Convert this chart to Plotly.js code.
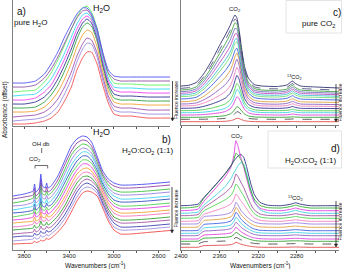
<!DOCTYPE html>
<html><head><meta charset="utf-8">
<script src="https://cdn.plot.ly/plotly-3.0.1.min.js"></script>
<style>html,body{margin:0;padding:0;background:#fff}#chart{width:342px;height:269px}</style>
</head><body><div id="chart"></div>
<script>
// ---------- Panel a: pure H2O (wavenumber, offset absorbance, bottom -> top) ----------
const wnA = [3900,3800,3700,3620,3560,3500,3440,3380,3330,3280,3240,3200,3150,3100,3050,3000,2940,2850,2700,2500];
const specA = [
 [2,2,3,5,8,14,25,39,56,68,74,74,62,41,23,12,10,10,8,8],
 [5,6,7,9,13,20,32,47,64,77,83,82,69,46,27,16,14,14,12,12],
 [9,10,11,14,19,27,39,54,70,82,88,86,73,50,30,20,18,18,16,16],
 [14,14,15,19,25,34,47,63,79,91,96,94,79,55,35,24,22,22,21,21],
 [18,18,19,24,31,41,55,71,87,99,103,100,85,60,39,28,26,26,25,25],
 [22,22,24,29,36,47,61,77,92,103,107,103,88,63,42,32,30,30,29,29],
 [26,26,28,34,41,53,67,83,97,107,110,106,90,65,45,36,34,34,33,33],
 [30,31,32,39,47,59,73,89,102,111,113,108,92,68,48,39,38,38,37,37],
 [34,35,36,44,53,66,81,97,109,118,120,114,98,72,52,43,42,42,41,41],
 [39,39,41,48,57,69,83,97,108,115,116,110,95,72,53,47,45,45,45,45],
 [43,43,45,52,62,74,89,102,112,118,118,112,97,74,56,50,49,49,49,49]
];
// ---------- Panel b: H2O:CO2 (1:1) ----------
const wnB = [3900,3800,3720,3708,3695,3665,3652,3638,3612,3600,3588,3560,3500,3440,3380,3330,3280,3240,3200,3150,3100,3050,3000,2940,2850,2700,2500];
const specB = [
 [6,6.5,7,9,7.5,8.5,10,9,10,12,10.5,12,18,26,38,49,57,59,58,54,42,29,20,16,16,17.5,19.5],
 [9,10,11,13,11,12,15,13,14,16,14,16,22,31,43,53,61,63,62,57,45,32,23,20,20,21,23],
 [13,14,14,17,15,16,19,17,17,20,18,19,26,35,47,58,65,67,65,60,47,35,27,23,23,24,26],
 [16,17,18,21,18,20,24,21,21,24,22,23,30,40,52,62,69,71,69,63,50,38,30,27,27,28,30],
 [20,21,22,25,22,24,29,25,25,28,25,27,34,44,57,67,73,74,72,65,53,41,33,30,30,31,33],
 [23,24,26,29,26,28,34,29,29,32,29,31,38,49,62,71,77,78,76,68,55,44,37,34,34,35,37],
 [27,28,29,33,29,31,38,33,32,36,33,34,42,53,66,76,81,82,79,71,58,47,40,37,37,38,40],
 [30,31,33,38,33,35,43,37,36,40,36,38,46,58,71,80,86,86,83,74,61,50,44,41,41,42,44],
 [33,35,37,42,36,39,48,40,40,43,40,42,50,62,76,84,90,90,87,77,63,53,47,44,44,45,47],
 [37,38,40,46,40,43,52,44,43,47,44,45,54,67,80,89,94,94,90,80,66,56,50,48,48,49,51],
 [40,42,44,50,44,47,57,48,47,51,47,49,58,71,85,93,98,98,94,83,68,59,54,51,51,52,54],
 [44,45,48,54,47,51,62,52,51,55,51,53,62,76,90,98,102,101,97,85,71,62,57,55,55,56,58],
 [47,49,52,58,51,54,67,56,55,59,55,57,66,80,95,102,106,105,101,88,74,65,60,58,58,59,61],
 [51,53,55,62,54,58,71,60,58,63,58,60,70,85,99,107,110,109,104,91,76,68,64,62,62,63,65],
 [54,56,59,66,58,62,76,64,62,67,62,64,74,89,104,111,114,113,108,94,79,71,67,65,65,66,68]
];
// ---------- Panel c: pure CO2 ----------
const wnC = [2400,2392,2384,2376,2368,2360,2354,2349,2346,2344,2342,2340,2337,2334,2330,2324,2316,2300,2290,2286,2284,2282,2276,2260,2236];
const specC = [
 [3.3,3.3,3.3,3.3,3.4,3.5,3.7,4.3,5,5.9,6.7,6.5,5.3,4.3,3.7,3.4,3.3,3.3,3.3,3.4,3.5,3.4,3.3,3.3,3.3],
 [5.7,5.7,5.7,5.8,5.9,6.2,6.7,7.8,9.5,11.4,13.3,12.8,10.3,8,6.6,6,5.8,5.7,5.8,5.9,6.1,5.9,5.7,5.7,5.7],
 [7.7,7.7,7.7,7.9,8.2,8.7,9.4,11,13.2,15.8,18.3,17.5,14,10.9,9,8.1,7.8,7.7,7.8,8,8.2,8,7.7,7.7,7.7],
 [10,10,10.1,10.5,11.2,12.2,13.5,16.2,20,24.2,28.2,26.8,20.8,15.4,12.2,10.7,10.2,10,10.2,10.6,11,10.6,10,10,10],
 [12.3,12.3,12.4,12.9,13.8,15.1,16.7,20.2,25.1,30.4,35.6,34.1,26.2,19.3,15.1,13.2,12.5,12.3,12.5,13.1,13.5,13,12.3,12.3,12.2],
 [14.3,14.4,14.6,15.5,16.9,19,21.1,25.1,30.5,36.2,41.5,39.2,30.3,22.4,17.5,15.3,14.5,14.3,14.6,15.3,15.8,15.2,14.3,14.2,14.2],
 [16.7,16.8,17.2,18.7,21,24,26.9,31.7,37.9,44.2,49.6,46.6,35.9,26.4,20.6,17.8,16.9,16.6,17.1,18,18.6,17.8,16.7,16.6,16.4],
 [19,19.2,19.8,22.1,25.4,29.6,33.4,39,45.7,52.4,57.7,53.8,41.3,30.3,23.6,20.3,19.2,18.9,19.5,20.6,21.3,20.4,19,18.8,18.6],
 [21,21.2,22.1,25.3,29.9,35.6,40.4,46.8,54.1,61,65.8,61,46.6,34,26.3,22.4,21.2,20.8,21.6,23,23.7,22.7,21,20.7,20.4],
 [23.3,23.6,24.8,28.9,34.7,41.8,47.5,54.4,61.8,68.3,72.1,66.5,50.9,37.4,29,24.7,23.5,23.1,23.9,25.6,26.4,25.2,23.3,22.9,22.5],
 [26,26.4,27.8,32.8,39.7,48,54.4,61.5,68.6,74.4,76.8,70.6,54.5,40.6,31.9,27.4,26.2,25.7,26.7,28.5,29.4,28,26,25.5,25],
 [28.3,28.7,30.4,36.1,44,53.5,60.8,68.4,75.8,81.5,83.3,76.4,58.9,44,34.7,29.7,28.4,28,29,31.1,32,30.5,28.3,27.7,27.1],
 [30,30.5,32.3,38.5,47.1,57.4,65.1,72.9,80.1,85.4,86.4,79.1,61.3,46.1,36.5,31.4,30.1,29.7,30.8,33,33.9,32.3,30,29.4,28.7],
 [31.7,32.2,34.3,41.2,50.8,62.2,70.6,78.8,86.1,91,91.2,83.2,64.5,48.6,38.6,33.1,31.8,31.3,32.5,34.9,35.8,34.2,31.7,31,30.2],
 [33.3,33.9,36.2,43.9,54.6,67.1,76.3,84.9,92.1,96.7,96,87.3,67.6,51.1,40.5,34.7,33.4,32.9,34.2,36.8,37.7,36,33.3,32.5,31.7],
 [35,35.6,38.2,46.5,58,71.5,81.3,90.3,97.7,102.1,100.8,91.5,70.9,53.6,42.6,36.5,35,34.6,35.9,38.7,39.7,37.8,35,34.1,33.2],
 [36.7,37.4,40.1,48.8,61,75.2,85.4,94.6,101.9,106,104,94.4,73.3,55.7,44.4,38.2,36.7,36.2,37.7,40.5,41.5,39.6,36.7,35.8,34.8],
 [39,39.7,42.6,51.8,64.6,79.5,90.1,99.4,106.5,110,107.2,97.2,75.9,58.2,46.8,40.4,39,38.5,40,43,44,42,39,38,37]
];
// ---------- Panel d: H2O:CO2 (1:1) ----------
const wnD = [2400,2390,2382,2379,2376,2370,2362,2354,2348,2345,2343,2341,2338,2335,2332,2328,2324,2318,2310,2296,2286,2281,2276,2266,2250,2236];
const specD = [
 [2.7,2.7,2.8,3.7,4.4,4.5,4.7,4.9,5.4,6.4,7.7,7.1,5.9,5.1,4.4,3.7,3.2,2.8,2.7,2.7,2.9,3,2.9,2.7,2.7,2.7],
 [6,6,6.1,7.4,8.3,8.5,8.7,9,9.6,11,12.7,11.9,10.3,9.2,8.3,7.3,6.6,6.2,6,6,6.3,6.4,6.3,6,6,6],
 [8.7,8.7,8.9,10.5,11.8,12,12.3,12.7,13.5,15.4,17.7,16.7,14.5,13,11.8,10.5,9.5,8.9,8.7,8.7,9.1,9.2,9.1,8.7,8.7,8.7],
 [11,11,11.2,13.4,15,15.3,15.7,16.2,17.2,19.8,22.7,21.4,18.5,16.6,15.1,13.3,12.1,11.3,11,11,11.5,11.7,11.5,11,11,11],
 [14.3,14.3,14.6,17,18.9,19.2,19.7,20.2,21.5,24.4,27.7,26.2,23,20.8,19,17,15.6,14.6,14.4,14.3,14.8,15.1,14.8,14.3,14.3,14.3],
 [16.7,16.7,17,19.9,22.1,22.6,23.1,23.7,25.2,28.7,32.7,30.9,27,24.4,22.2,19.9,18.2,17.1,16.8,16.7,17.3,17.7,17.3,16.7,16.7,16.7],
 [19.3,19.3,19.7,23,25.6,26.1,26.6,27.4,29.1,33.1,37.7,35.7,31.2,28.2,25.7,22.9,21,19.7,19.4,19.3,20,20.4,20,19.3,19.3,19.3],
 [22.7,22.7,23.1,26.7,29.5,30,30.6,31.5,33.3,37.7,42.7,40.5,35.6,32.3,29.6,26.6,24.6,23.2,22.8,22.7,23.5,23.9,23.5,22.7,22.7,22.7],
 [26,26,26.4,30.4,33.4,34,34.6,35.6,37.6,42.2,47.7,45.3,40,36.5,33.5,30.3,28,26.5,26.1,26,26.9,27.3,26.9,26,26,26],
 [28.7,28.8,29.4,32.9,35.8,37.7,40.2,43,46.2,50.9,56,54,49.4,45.6,41.3,35.9,32.1,29.7,28.9,28.7,29.6,30.2,29.6,28.7,28.7,28.7],
 [31.7,31.9,32.6,36.2,39.4,42.3,46.2,50.3,54.7,60.2,66,63.9,58.8,54.3,48.7,41.5,36.3,33,31.9,31.7,32.7,33.5,32.7,31.7,31.7,31.7],
 [34.3,34.5,35.5,39.2,42.5,46.4,51.7,57.3,62.9,69.3,76,73.7,68,62.7,55.7,46.6,40.1,36,34.6,34.3,35.4,36.3,35.4,34.3,34.3,34.3],
 [36.7,37,38.1,41.8,45.3,49.9,56.4,63.7,71.6,77.3,80.7,84.1,87.4,86,77.5,62,49,40.2,37.2,36.7,38.3,39.7,38.3,36.7,36.7,36.7],
 [39.3,39.7,41,45.1,49,55.4,64.1,73.3,83.1,95.6,109.3,104.4,92.8,83.2,71.9,57.9,48,41.8,39.7,39.3,40.7,42,40.7,39.3,39.3,39.3],
 [42,42.4,43.8,48,52.1,58.6,67.3,76.3,84.2,90.7,96.7,95.2,90.6,84.6,74.6,60.9,51,44.6,42.4,42,43.5,44.8,43.5,42,42,42],
 [44.3,44.7,46,49.3,52.7,59,67.6,76.6,84.6,89.1,91.5,93.8,95.6,92.9,83.5,67.9,55.7,47.6,44.8,44.3,45.8,47.2,45.8,44.3,44.3,44.3]
];
// tick labels
const ticksAB = [3800,3400,3000,2600];
const ticksCD = [2400,2360,2320,2280,2240];

// colours (bottom -> top)
const colA = ['#f05050','#9a8ae0','#a050b0','#f0a030','#30a040','#303090','#f040f0','#30d8f0','#60f060','#9050a0','#5050f0'];
const colB = ['#f04848','#a090e0','#4040b0','#a050a0','#30a030','#f070c0','#f0a030','#e040e0','#50d050','#3050c0','#40d0f0','#9a80e0','#40c040','#9040a0','#4848f0'];
const colC = ['#e04848','#484848','#30a030','#e040e0','#40d0e0','#50d050','#303090','#f080c0','#9060c0','#e0a040','#4060e0','#70e070','#40c0d0','#c050c0','#7070c0','#40a040','#505080','#303070'];
const colD = ['#e04848','#484848','#30a030','#e040e0','#9060c0','#40d0e0','#4060e0','#e0a040','#9a80e0','#f080c0','#50d050','#a050a0','#40d0e0','#e040e0','#30b030','#303080'];

const W = 342, H = 269;
const FONT = 'Arial, "Liberation Sans", sans-serif';
const dx = (a,b) => [a/W, b/W];
const dy = (top,bot) => [1-bot/H, 1-top/H];
const traces = [];
function addPanel(xs, spec, cols, dashed, xa, ya){
  spec.forEach((ys,i) => traces.push({
    x: xs, y: ys, type:'scatter', mode:'lines', xaxis: xa, yaxis: ya,
    line:{color: cols[i % cols.length], width: 0.9, shape:'spline', smoothing:0.5, dash: dashed.includes(i) ? 'dash' : 'solid'},
    hoverinfo:'skip', showlegend:false
  }));
}
addPanel(wnA, specA, colA, [], 'x', 'y');
addPanel(wnB, specB, colB, [], 'x2', 'y2');
addPanel(wnC, specC, colC, [1,16], 'x3', 'y3');
addPanel(wnD, specD, colD, [1], 'x4', 'y4');

const base = {showline:true, linecolor:'#808080', linewidth:1, showgrid:false, zeroline:false,
  ticks:'outside', ticklen:2, tickwidth:1, tickcolor:'#555', ticklabelstandoff:-2,
  tickfont:{family:FONT, size:6, color:'#222'}, fixedrange:true};
const yBase = Object.assign({}, base, {ticks:'', showticklabels:false});
const xAB = {tickmode:'array', tickvals: ticksAB, ticktext: ticksAB.map(String), minor:{dtick:200, tick0:2600, ticks:'outside', ticklen:2, tickcolor:'#555'}};
const xCD = {tickmode:'array', tickvals: ticksCD, ticktext: ticksCD.map(String), minor:{dtick:20, tick0:2240, ticks:'outside', ticklen:2, tickcolor:'#555'}};

function A(text, px, py, size, extra){
  return Object.assign({text:text, x:px/W, y:1-py/H, xref:'paper', yref:'paper', showarrow:false,
    font:{family:FONT, size:size, color:'#111'}, xanchor:'center', yanchor:'middle'}, extra||{});
}
const annotations = [
  A('a)', 21.5, 11.5, 10),
  A('pure H<sub>2</sub>O', 30, 23, 8),
  A('H<sub>2</sub>O', 101.5, 8.5, 9),
  A('H<sub>2</sub>O', 101.5, 132, 9),
  A('b)', 166, 139, 10),
  A('H<sub>2</sub>O:CO<sub>2</sub> (1:1)', 147, 150.5, 8),
  A('OH db', 40.5, 144, 6),
  A('CO<sub>2</sub>', 35, 159.5, 6),
  A('CO<sub>2</sub>', 235, 9, 6),
  A('c)', 336.5, 12.5, 10),
  A('pure CO<sub>2</sub>', 318, 24, 8),
  A('<sup>13</sup>CO<sub>2</sub>', 294, 77.5, 5.5),
  A('CO<sub>2</sub>', 236.5, 136.5, 6),
  A('d)', 335, 148.5, 10),
  A('H<sub>2</sub>O:CO<sub>2</sub> (1:1)', 310, 161, 8),
  A('<sup>13</sup>CO<sub>2</sub>', 295, 198, 5.5),
  A('Absorbance (offset)', 5, 110, 6.5, {textangle:-90}),
  A('Wavenumbers (cm<sup>-1</sup>)', 95, 265, 6.5),
  A('Wavenumbers (cm<sup>-1</sup>)', 260, 265, 6.5),
  A('Fluence increase', 176, 100, 5, {textangle:-90}),
  A('Fluence increase', 175.5, 209, 5, {textangle:-90}),
  A('Fluence increase', 339.5, 103, 5, {textangle:-90}),
  A('Fluence increase', 339.5, 222, 5, {textangle:-90})
];
function pathPx(pts, close){ return pts.map((p,i)=> (i? 'L':'M') + (p[0]/W).toFixed(5) + ',' + (1-p[1]/H).toFixed(5)).join(' ') + (close ? ' Z' : ''); }
function arrowShapes(px, top, head){
  return [
    {type:'path', xref:'paper', yref:'paper', path: pathPx([[px,top],[px,head-2]]), line:{color:'#222', width:0.8}},
    {type:'path', xref:'paper', yref:'paper', path: pathPx([[px-1.6,head-3],[px+1.6,head-3],[px,head]], true), fillcolor:'#222', line:{color:'#222', width:0.5}}
  ];
}
const shapes = [
  {type:'path', xref:'paper', yref:'paper', path: pathPx([[41.7,148],[41.7,153]]), line:{color:'#444', width:0.8}},
  {type:'path', xref:'paper', yref:'paper', path: pathPx([[35,168.5],[35,165.5],[47.7,165.5],[47.7,168.5]]), line:{color:'#444', width:0.8}},
  {type:'rect', xref:'paper', yref:'paper', x0:286/W, x1:341.5/W, y0:1-33/H, y1:1-0.5/H, line:{color:'#e4e4e4', width:1}},
  {type:'rect', xref:'paper', yref:'paper', x0:268/W, x1:341.5/W, y0:1-168/H, y1:1-131/H, line:{color:'#e4e4e4', width:1}}
].concat(arrowShapes(172.5, 81, 121), arrowShapes(172, 187, 233), arrowShapes(336, 84, 122), arrowShapes(336, 201, 247));

const layout = {
  width: W, height: H, margin:{l:0, r:0, t:0, b:0},
  paper_bgcolor:'#fff', plot_bgcolor:'#fff', showlegend:false,
  font:{family:FONT, size:6, color:'#222'},
  xaxis:  Object.assign({}, base, xAB, {domain: dx(13,170), range:[3900,2500], anchor:'y', showticklabels:false}),
  yaxis:  Object.assign({}, yBase, {domain: dy(0,126), range:[0,126], anchor:'x'}),
  xaxis2: Object.assign({}, base, xAB, {domain: dx(13,170), range:[3900,2500], anchor:'y2'}),
  yaxis2: Object.assign({}, yBase, {domain: dy(128,250), range:[0,122], anchor:'x2'}),
  xaxis3: Object.assign({}, base, xCD, {domain: dx(181,339), range:[2400,2236], anchor:'y3', showticklabels:false}),
  yaxis3: Object.assign({}, yBase, {domain: dy(0,125), range:[0,125], anchor:'x3'}),
  xaxis4: Object.assign({}, base, xCD, {domain: dx(181,339), range:[2400,2236], anchor:'y4'}),
  yaxis4: Object.assign({}, yBase, {domain: dy(128,250), range:[0,122], anchor:'x4'}),
  annotations: annotations,
  shapes: shapes
};
Plotly.newPlot('chart', traces, layout, {staticPlot:true, displayModeBar:false});
</script>
</body></html>
